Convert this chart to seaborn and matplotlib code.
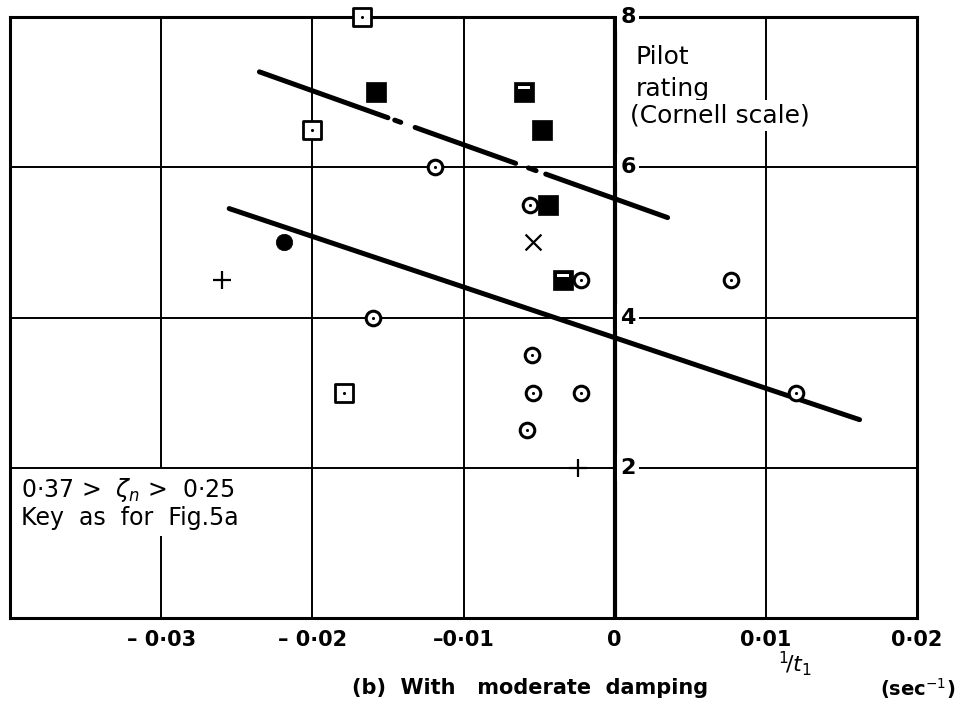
import numpy as np
import pandas as pd
import matplotlib
matplotlib.use("Agg")
import matplotlib.pyplot as plt
import seaborn as sns
from matplotlib.path import Path
from matplotlib.markers import MarkerStyle

# ---------------- data ----------------
circle_dot_x = [-0.0119, -0.0056, -0.0022, 0.0077, -0.0160, -0.0055, -0.0054, -0.0022, 0.0120, -0.0058]
circle_dot_y = [6.0, 5.5, 4.5, 4.5, 4.0, 3.5, 3.0, 3.0, 3.0, 2.5]
square_dot_x = [-0.0167, -0.0200, -0.0179]
square_dot_y = [8.0, 6.5, 3.0]
square_fill_x = [-0.0158, -0.0048, -0.0044]
square_fill_y = [7.0, 6.5, 5.5]
square_half_x = [-0.0060, -0.0034]
square_half_y = [7.0, 4.5]
circle_fill_x = [-0.0219]
circle_fill_y = [5.0]
cross_x = [-0.0054]
cross_y = [5.0]
plus_x = [-0.0260, -0.0024]
plus_y = [4.5, 2.0]

# fitted lines (end points)
upper_line_x = [-0.0235, 0.0035]
upper_line_y = [7.27, 5.33]
upper_segments = [(-0.0235, -0.0150), (-0.01455, -0.01415), (-0.0132, -0.00655),
                  (-0.0057, -0.0052), (-0.00456, 0.0035)]
lower_line_x = [-0.0255, 0.0162]
lower_line_y = [5.45, 2.64]

x_ticks = [-0.03, -0.02, -0.01, 0.0, 0.01, 0.02]
x_tick_labels = ["\u2013 0\u00b703", "\u2013 0\u00b702", "\u20130\u00b701", "0", "0\u00b701", "0\u00b702"]
y_ticks = [2, 4, 6, 8]
y_tick_labels = ["2", "4", "6", "8"]

# ---------------- figure ----------------
sns.set_theme(style="white")
plt.rcParams["font.family"] = ["DejaVu Sans"]
plt.rcParams["text.color"] = "black"
plt.rcParams["xtick.color"] = "black"
plt.rcParams["ytick.color"] = "black"
plt.rcParams["axes.labelcolor"] = "black"
fig = plt.figure(figsize=(9.79, 7.07), dpi=100)
L, R, T, B = 10 / 979, 917 / 979, 1 - 17 / 707, 1 - 618 / 707
ax = fig.add_axes([L, B, R - L, T - B])
ax.set_xlim(-0.04, 0.02)
ax.set_ylim(0, 8)

# grid
for gx in x_ticks[:-1]:
    if gx == 0:
        continue
    ax.axvline(gx, color="black", lw=1.4, zorder=1)
for gy in y_ticks[:-1]:
    ax.axhline(gy, color="black", lw=1.4, zorder=1.2)
ax.axvline(0, color="black", lw=3.0, zorder=1)
for s in ax.spines.values():
    s.set_color("black")
    s.set_linewidth(2.2)

# lines
seg_rows = []
for i, (a, b) in enumerate(upper_segments):
    for xv in (a, b):
        seg_rows.append({"x": xv, "y": np.interp(xv, upper_line_x, upper_line_y), "seg": i})
seg_df = pd.DataFrame(seg_rows)
sns.lineplot(data=seg_df, x="x", y="y", units="seg", estimator=None, sort=False,
             color="black", lw=3.6, ax=ax, zorder=3, legend=False)
low_df = pd.DataFrame({"x": lower_line_x, "y": lower_line_y})
sns.lineplot(data=low_df, x="x", y="y", estimator=None, sort=False,
             color="black", lw=3.6, ax=ax, zorder=3, legend=False)

# markers
kw = dict(ax=ax, clip_on=False)
sns.scatterplot(x=circle_dot_x, y=circle_dot_y, marker="o", s=110, facecolor="white",
                edgecolor="black", linewidth=2.2, zorder=5, **kw)
sns.scatterplot(x=circle_dot_x, y=circle_dot_y, marker="o", s=5, color="black",
                edgecolor="black", linewidth=0, zorder=6, **kw)
sns.scatterplot(x=square_dot_x, y=square_dot_y, marker="s", s=150, facecolor="white",
                edgecolor="black", linewidth=2.0, zorder=5, **kw)
sns.scatterplot(x=square_dot_x, y=square_dot_y, marker="o", s=5, color="black",
                edgecolor="black", linewidth=0, zorder=6, **kw)
sns.scatterplot(x=square_fill_x, y=square_fill_y, marker="s", s=200, color="black",
                edgecolor="black", linewidth=0.5, zorder=5, **kw)
sns.scatterplot(x=square_half_x, y=square_half_y, marker="s", s=190, color="black",
                edgecolor="black", linewidth=0.5, zorder=5, **kw)
notch = Path([(-1, -1), (1, 1), (-0.62, 0.28), (0.62, 0.28), (0.62, 0.6), (-0.62, 0.6), (-0.62, 0.28)],
             [Path.MOVETO, Path.MOVETO, Path.MOVETO, Path.LINETO, Path.LINETO, Path.LINETO, Path.CLOSEPOLY])
sns.scatterplot(x=square_half_x, y=square_half_y, marker=MarkerStyle(notch), s=190, color="white",
                edgecolor="white", linewidth=0, zorder=6, **kw)
sns.scatterplot(x=circle_fill_x, y=circle_fill_y, marker="o", s=140, color="black",
                edgecolor="black", linewidth=0.5, zorder=5, **kw)
sns.scatterplot(x=cross_x, y=cross_y, marker="x", s=130, color="black", linewidth=1.6, zorder=5, **kw)
sns.scatterplot(x=plus_x, y=plus_y, marker="+", s=160, color="black", linewidth=1.6, zorder=5, **kw)

# ticks
ax.set_xticks(x_ticks, x_tick_labels)
ax.set_yticks([])
ax.tick_params(axis="x", length=0, pad=9, labelsize=15)
for t in ax.get_xticklabels():
    t.set_fontweight("bold")
ax.set_xlabel("")
ax.set_ylabel("")
for yv, lab in zip(y_ticks, y_tick_labels):
    ax.annotate(lab, (0, yv), xytext=(4, 0), textcoords="offset points", ha="left", va="center",
                fontsize=16, fontweight="bold", zorder=7, annotation_clip=False,
                bbox=dict(boxstyle="square,pad=0.15", fc="white", ec="none"))

# labels
ax.annotate("Pilot", (0, 8), xytext=(15, -29), textcoords="offset points", ha="left", va="center", fontsize=18)
ax.annotate("rating", (0, 8), xytext=(15, -52), textcoords="offset points", ha="left", va="center", fontsize=18)
ax.annotate("(Cornell scale)", (0, 8), xytext=(11, -71), textcoords="offset points", ha="left", va="center",
            fontsize=18, zorder=7, bbox=dict(boxstyle="square,pad=0.15", fc="white", ec="none"))

ax.text(0.012, 0.236, "0\u00b737 >  $\\zeta_n$ >  0\u00b725\nKey  as  for  Fig.5a", transform=ax.transAxes,
        ha="left", va="top", fontsize=17, linespacing=1.1, zorder=1.1,
        bbox=dict(boxstyle="square,pad=0.25", fc="white", ec="none"))

fig.text(795 / 979, 1 - 664 / 707, "${}^{1}\\!/t_{1}$", ha="center", va="center", fontsize=16)
fig.text(918 / 979, 1 - 689 / 707, "(sec$^{-1}$)", ha="center", va="center", fontsize=14, fontweight="bold")
fig.text(530 / 979, 1 - 688 / 707, "(b)  With   moderate  damping", ha="center", va="center",
         fontsize=15, fontweight="bold")

fig.savefig("out.png", dpi=100, facecolor="white")
